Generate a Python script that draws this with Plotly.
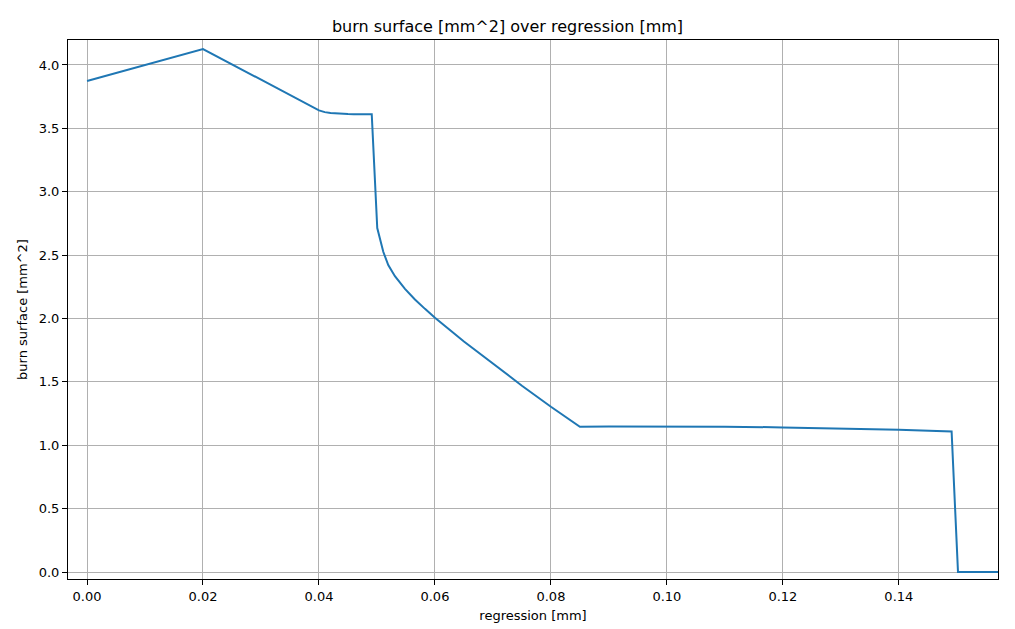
import plotly.graph_objects as go

regression = [0.0, 0.02, 0.04, 0.041, 0.042, 0.043, 0.044, 0.045, 0.046, 0.047, 0.048, 0.0491,
              0.05005, 0.05052, 0.05109, 0.05195, 0.05310, 0.05483, 0.05655, 0.05828, 0.0600,
              0.0650, 0.0700, 0.0750, 0.0800, 0.0850,
              0.0900, 0.1000, 0.1100, 0.1200, 0.1300, 0.1400, 0.1491,
              0.1502, 0.1571]
burn_surface = [3.874, 4.126, 3.642, 3.628, 3.621, 3.617, 3.614, 3.613, 3.612, 3.612, 3.612, 3.612,
                2.714, 2.632, 2.526, 2.421, 2.334, 2.234, 2.150, 2.076, 2.006,
                1.819, 1.641, 1.470, 1.304, 1.146,
                1.149, 1.150, 1.147, 1.141, 1.133, 1.122, 1.108,
                0.0, 0.0]

x_ticks = [0.0, 0.02, 0.04, 0.06, 0.08, 0.10, 0.12, 0.14]
y_ticks = [0.0, 0.5, 1.0, 1.5, 2.0, 2.5, 3.0, 3.5, 4.0]

fig = go.Figure()
fig.add_trace(go.Scatter(x=regression, y=burn_surface, mode="lines",
                         line=dict(color="#1f77b4", width=2), showlegend=False))

font = "DejaVu Sans, sans-serif"
axis_common = dict(showline=True, mirror=True, linecolor="black", linewidth=1,
                   ticks="outside", ticklen=5, tickcolor="black", tickwidth=1,
                   showgrid=True, gridcolor="#b0b0b0", gridwidth=1, zeroline=False,
                   automargin=False,
                   tickfont=dict(family=font, size=13, color="black"))

fig.update_layout(
    width=1015, height=629,
    margin=dict(l=68, r=17, t=40, b=50),
    paper_bgcolor="white", plot_bgcolor="white",
    title=dict(text="burn surface [mm^2] over regression [mm]", x=0.5, xanchor="center",
               y=1 - 26/629, yanchor="middle",
               font=dict(family=font, size=16, color="black")),
    xaxis=dict(range=[-0.00328, 0.1571], tickvals=x_ticks, tickformat=".2f",
               title=dict(text="regression [mm]", font=dict(family=font, size=13, color="black"), standoff=8),
               **axis_common),
    yaxis=dict(range=[-0.055, 4.197], tickvals=y_ticks, tickformat=".1f",
               title=dict(text="burn surface [mm^2]", font=dict(family=font, size=13, color="black"), standoff=8),
               **axis_common),
)

fig.write_html("out.html")
